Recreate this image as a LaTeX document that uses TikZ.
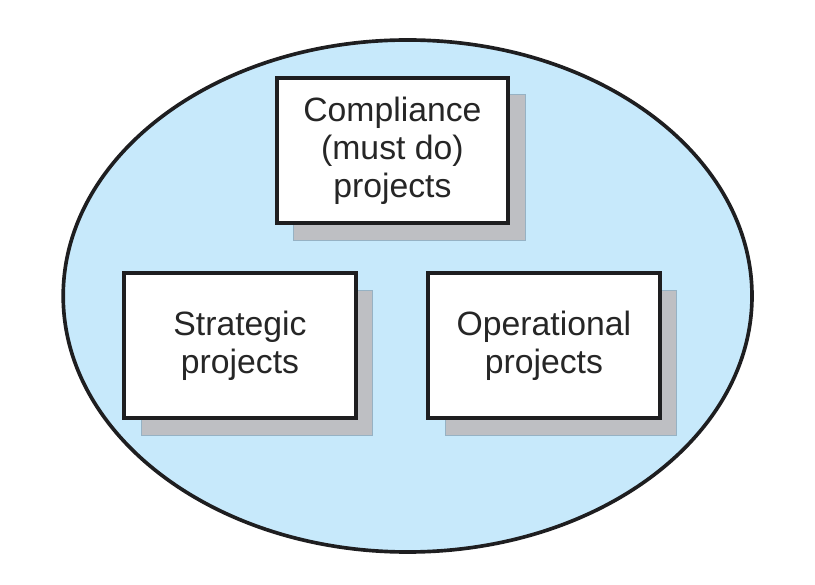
\documentclass[tikz,border=0pt]{standalone}
\usepackage{fontspec}
\setmainfont{Liberation Sans}
\usetikzlibrary{positioning, shapes.geometric, shadows}

\definecolor{poolblue}{RGB}{199,233,251}
\definecolor{shadowgray}{RGB}{190,191,195}
\definecolor{shadowedge}{RGB}{150,178,196}
\definecolor{inkline}{RGB}{30,30,32}

\begin{document}
\begin{tikzpicture}[
  font=\fontsize{24}{27}\selectfont,
  pool/.style={draw=inkline, line width=2.6pt, fill=poolblue, ellipse, inner sep=0pt,
    minimum width=17.22cm, minimum height=12.8cm},
  proj/.style={draw=inkline, line width=2.8pt, fill=white, align=center,
    minimum width=5.78cm, minimum height=3.63cm, text=black!85,
    drop shadow={shadow xshift=0.425cm, shadow yshift=-0.425cm, fill=shadowgray,
      draw=shadowedge, line width=0.6pt, opacity=1}}
]
\useasboundingbox (0,0) rectangle (20.375,14.6);

\node[pool] (portfolio) at (10.19,7.2) {};

\node[proj] (comp) at (9.81,10.84) {Compliance\\(must do)\\projects};
\node[proj, below=1.15cm of comp, xshift=-3.81cm] (strat) {Strategic\\projects};
\node[proj, right=1.72cm of strat] (oper) {Operational\\projects};

\end{tikzpicture}
\end{document}
